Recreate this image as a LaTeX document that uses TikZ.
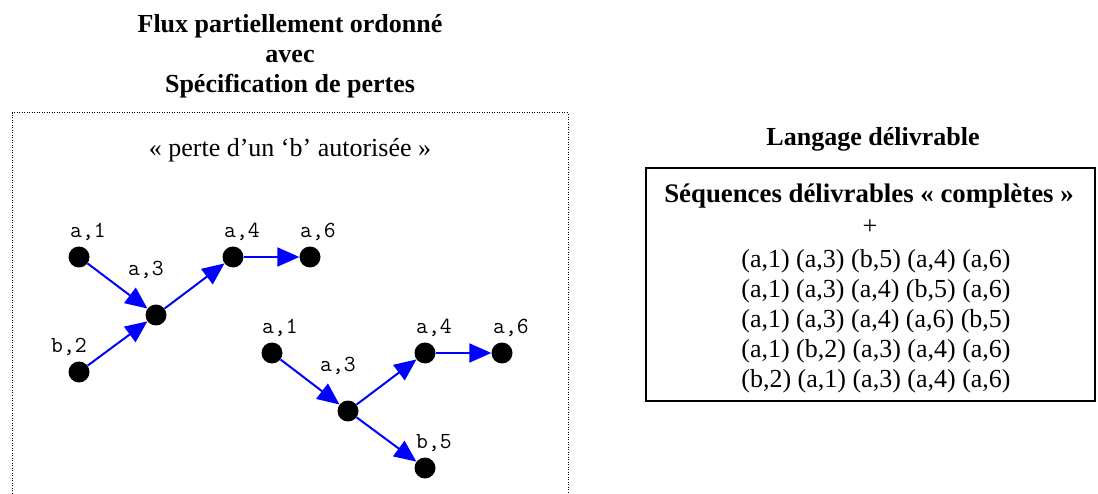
\documentclass[tikz,border=0pt]{standalone}
\usepackage{fontspec}
\setmainfont{Liberation Serif}
\usetikzlibrary{arrows.meta}
\definecolor{arrowblue}{RGB}{0,0,255}
\begin{document}
\begin{tikzpicture}[x=1pt,y=-1pt,
  big/.style={font=\fontsize{26}{30}\selectfont, inner sep=0pt, anchor=base},
  bigb/.style={font=\fontsize{26}{30}\selectfont\bfseries, inner sep=0pt, anchor=base},
  dot/.style={circle, fill=black, minimum size=21pt, inner sep=0pt},
  lab/.style={font=\fontsize{23}{23}\selectfont\ttfamily, inner sep=0pt},
  arr/.style={draw=arrowblue, line width=2pt, -{Triangle[length=22pt,width=19pt]}}
]
\useasboundingbox (0,0) rectangle (1098,494);
% titles
\node[bigb] (t1) at (290,33) {Flux partiellement ordonné};
\node[bigb] (t2) at (290,63) {avec};
\node[bigb] (t3) at (290,93) {Spécification de pertes};
% dotted frame
\draw[line width=1pt, dash pattern=on 1pt off 1.5pt] (12,496) -- (12,113) -- (568,113) -- (568,496);
\node[big] (perte) at (290,157) {« perte d’un ‘b’ autorisée »};
% right side
\node[bigb] (lang) at (873,146) {Langage délivrable};
\draw[line width=1.5pt] (646,168) rectangle (1095,401);
\node[bigb, font=\fontsize{26.8}{30}\selectfont\bfseries] (seq) at (869,203) {Séquences délivrables « complètes »};
\node[big] (plus) at (870,235) {+};
\node[big] (l1) at (876,268) {(a,1) (a,3) (b,5) (a,4) (a,6)};
\node[big] (l2) at (876,298) {(a,1) (a,3) (a,4) (b,5) (a,6)};
\node[big] (l3) at (876,328) {(a,1) (a,3) (a,4) (a,6) (b,5)};
\node[big] (l4) at (876,358) {(a,1) (b,2) (a,3) (a,4) (a,6)};
\node[big] (l5) at (876,388) {(b,2) (a,1) (a,3) (a,4) (a,6)};
% graph 1
\node[dot] (ga1) at (79,257) {};
\node[dot] (ga3) at (156,315) {};
\node[dot] (ga4) at (233,257) {};
\node[dot] (ga6) at (310,257) {};
\node[dot] (gb2) at (79,372) {};
\node[lab] (la1) at (88,232) {a,1};
\node[lab] (la3) at (146,270) {a,3};
\node[lab] (la4) at (242,232) {a,4};
\node[lab] (la6) at (318,232) {a,6};
\node[lab] (lb2) at (69,347) {b,2};
\draw[arr] (ga1) -- (ga3);
\draw[arr] (gb2) -- (ga3);
\draw[arr] (ga3) -- (ga4);
\draw[arr] (ga4) -- (ga6);
% graph 2
\node[dot] (ha1) at (272,353) {};
\node[dot] (ha3) at (348,411) {};
\node[dot] (ha4) at (425,353) {};
\node[dot] (ha6) at (502,353) {};
\node[dot] (hb5) at (425,468) {};
\node[lab] (ma1) at (280,328) {a,1};
\node[lab] (ma3) at (338,366) {a,3};
\node[lab] (ma4) at (434,328) {a,4};
\node[lab] (ma6) at (511,328) {a,6};
\node[lab] (mb5) at (434,443) {b,5};
\draw[arr] (ha1) -- (ha3);
\draw[arr] (ha3) -- (ha4);
\draw[arr] (ha4) -- (ha6);
\draw[arr] (ha3) -- (hb5);
\end{tikzpicture}
\end{document}
